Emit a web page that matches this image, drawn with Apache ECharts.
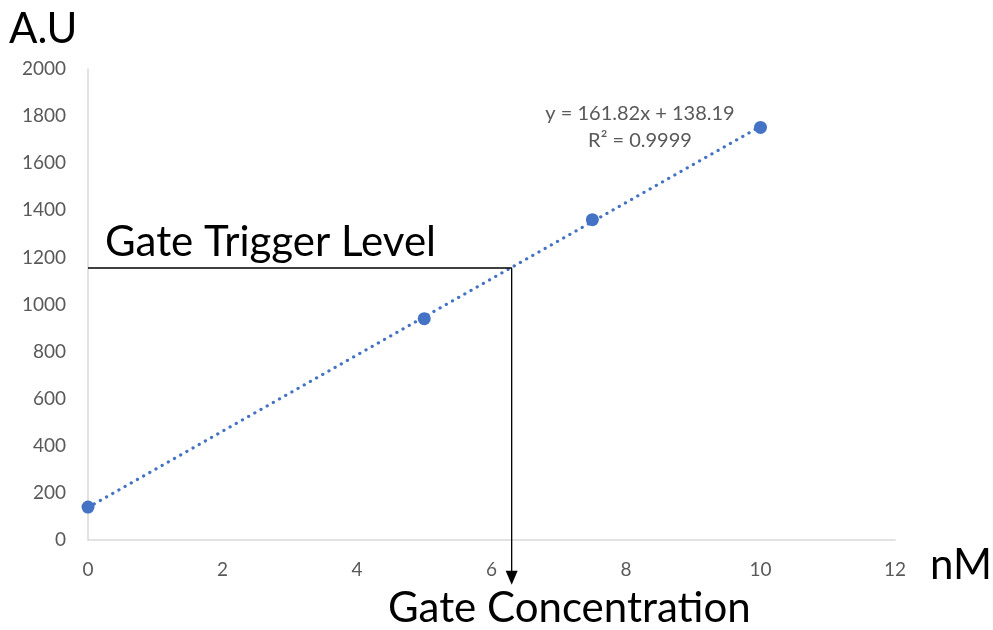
<!DOCTYPE html>
<html>
<head>
<meta charset="utf-8">
<script src="https://cdn.jsdelivr.net/npm/echarts@6/dist/echarts.min.js"></script>
<style>
  html, body { margin: 0; padding: 0; background: #fff; }
  #chart { width: 993px; height: 630px; }
</style>
</head>
<body>
<div id="chart"></div>
<script>
// Calibration measurements (concentration in nM vs signal in A.U)
const concentrations = [0, 5, 7.5, 10];
const signals = [140, 940, 1360, 1752];

// Linear trendline endpoints, from y = 161.82x + 138.19
const trendX = [0, 10];
const trendY = [138.19, 1756.39];
const trendText = ['y = 161.82x + 138.19', 'R\u00B2 = 0.9999'];

// Gate trigger level and the concentration it maps to
const triggerLevel = 1155;
const gateConcentration = 6.3;
const arrowBottom = -160;

// Axis ranges and tick steps
const xRange = [0, 12], xStep = 2;
const yRange = [0, 2000], yStep = 200;

const blue = '#4472C4';
const tickColor = '#595959';
const font = 'Lato, "Open Sans", sans-serif';

const chart = echarts.init(document.getElementById('chart'), null, { renderer: 'canvas' });

function bigText(text, x, y) {
  return {
    type: 'text', x: x, y: y,
    style: { text: text, font: '42px ' + font, fill: '#000' }
  };
}

function smallText(text, x, y) {
  return {
    type: 'text', x: x, y: y,
    style: { text: text, font: '20px ' + font, fill: tickColor, textAlign: 'center' }
  };
}

chart.setOption({
  animation: false,
  backgroundColor: '#ffffff',
  grid: { left: 88, right: 98, top: 69, bottom: 90, containLabel: false },
  xAxis: {
    type: 'value',
    min: xRange[0], max: xRange[1], interval: xStep,
    axisLine: { show: true, lineStyle: { color: '#d9d9d9', width: 1.5 } },
    axisTick: { show: false },
    splitLine: { show: false },
    axisLabel: { color: tickColor, fontSize: 19, fontFamily: font, margin: 20, formatter: v => String(v) }
  },
  yAxis: {
    type: 'value',
    min: yRange[0], max: yRange[1], interval: yStep,
    axisLine: { show: true, lineStyle: { color: '#d9d9d9', width: 1.5 } },
    axisTick: { show: false },
    splitLine: { show: false },
    axisLabel: { color: tickColor, fontSize: 19, fontFamily: font, margin: 22, formatter: v => String(v) }
  },
  graphic: [
    bigText('A.U', 9, 8),
    bigText('nM', 930, 544),
    bigText('Gate Trigger Level', 105, 221),
    bigText('Gate Concentration', 388, 587),
    smallText(trendText[0], 640, 104),
    smallText(trendText[1], 640, 131)
  ],
  series: [
    {
      name: 'Trendline',
      type: 'line',
      data: trendX.map((x, i) => [x, trendY[i]]),
      symbol: 'none',
      lineStyle: { color: blue, width: 3.2, type: [0.1, 7], cap: 'round' },
      z: 2
    },
    {
      name: 'Signal',
      type: 'scatter',
      data: concentrations.map((x, i) => [x, signals[i]]),
      symbol: 'circle',
      symbolSize: 13,
      itemStyle: { color: blue, opacity: 1 },
      z: 3
    },
    {
      name: 'Gate',
      type: 'line',
      clip: false,
      showSymbol: true,
      showAllSymbol: true,
      silent: true,
      data: [
        { value: [xRange[0], triggerLevel], symbol: 'none' },
        { value: [gateConcentration, triggerLevel], symbol: 'none' },
        { value: [gateConcentration, arrowBottom], symbol: 'triangle', symbolRotate: 180, symbolSize: [12, 14] }
      ],
      lineStyle: { color: '#000', width: 1.3 },
      itemStyle: { color: '#000' },
      z: 4
    }
  ]
});
</script>
</body>
</html>
